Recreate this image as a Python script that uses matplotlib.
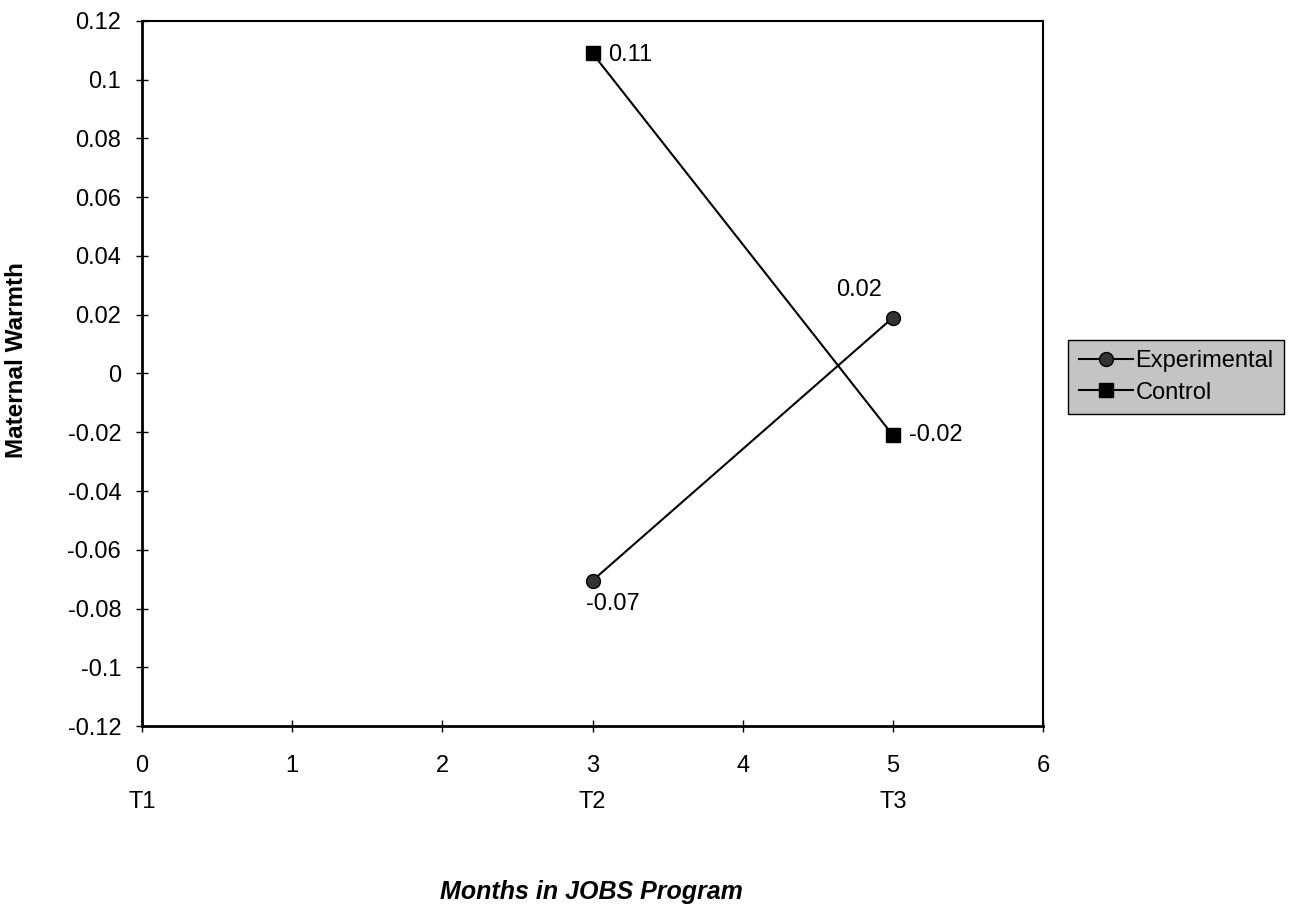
import numpy as np
import matplotlib.pyplot as plt
from matplotlib.transforms import blended_transform_factory

# Werte
months = [3, 5]
experimental = [-0.0705, 0.019]
control = [0.109, -0.021]
exp_labels = ["-0.07", "0.02"]
ctl_labels = ["0.11", "-0.02"]
x_ticks = [0, 1, 2, 3, 4, 5, 6]
y_ticks = [-0.12, -0.1, -0.08, -0.06, -0.04, -0.02, 0, 0.02, 0.04, 0.06, 0.08, 0.1, 0.12]
phase_pos = [0, 3, 5]
phase_names = ["T1", "T2", "T3"]

plt.rcParams["font.family"] = ["Liberation Sans", "DejaVu Sans"]
fs = 17

fig = plt.figure(figsize=(13.09, 9.13), dpi=100)
ax = fig.add_axes([142 / 1309, 1 - 726 / 913, (1043 - 142) / 1309, (726 - 21) / 913])

ax.plot(months, experimental, color="black", lw=1.5, marker="o", ms=10,
        markerfacecolor="#333333", markeredgecolor="black", label="Experimental")
ax.plot(months, control, color="black", lw=1.5, marker="s", ms=10,
        markerfacecolor="black", label="Control")

# Datenbeschriftungen
ax.annotate(ctl_labels[0], (months[0], control[0]), xytext=(11, -1), textcoords="offset points",
            ha="left", va="center", fontsize=fs)
ax.annotate(ctl_labels[1], (months[1], control[1]), xytext=(12, 0), textcoords="offset points",
            ha="left", va="center", fontsize=fs)
ax.annotate(exp_labels[0], (months[0], experimental[0]), xytext=(15, -17), textcoords="offset points",
            ha="center", va="center", fontsize=fs)
ax.annotate(exp_labels[1], (months[1], experimental[1]), xytext=(-24, 20), textcoords="offset points",
            ha="center", va="center", fontsize=fs)

ax.set_xlim(0, 6)
ax.set_ylim(-0.12, 0.12)
ax.set_xticks(x_ticks)
ax.set_xticklabels([str(v) for v in x_ticks], fontsize=fs)
ax.set_yticks(y_ticks)
ax.set_yticklabels(["0" if v == 0 else f"{v:g}" for v in y_ticks], fontsize=fs)
ax.tick_params(direction="inout", length=8, width=1)
ax.tick_params(axis="y", pad=11)
ax.tick_params(axis="x", pad=17)

for side in ["left", "bottom"]:
    ax.spines[side].set_linewidth(2)
for side in ["top", "right"]:
    ax.spines[side].set_linewidth(1.5)

trans = blended_transform_factory(ax.transData, ax.transAxes)
for p, name in zip(phase_pos, phase_names):
    ax.text(p, -0.108, name, transform=trans, ha="center", va="center", fontsize=fs)

fig.text(591 / 1309, 1 - 892 / 913, "Months in JOBS Program", ha="center", va="center",
         fontsize=18, fontweight="bold", fontstyle="italic")
fig.text(17 / 1309, 1 - 360 / 913, "Maternal Warmth", ha="center", va="center",
         rotation=90, fontsize=17.5, fontweight="bold")

leg = fig.legend(loc="center left", bbox_to_anchor=(1068 / 1309, 1 - 377 / 913), fontsize=fs,
                 frameon=True, fancybox=False, handlelength=2.3, handletextpad=0.1,
                 borderpad=0.45, labelspacing=0.4, borderaxespad=0)
leg.get_frame().set_facecolor("#c4c4c4")
leg.get_frame().set_edgecolor("black")
leg.get_frame().set_alpha(1)

fig.savefig("out.png", dpi=100)
